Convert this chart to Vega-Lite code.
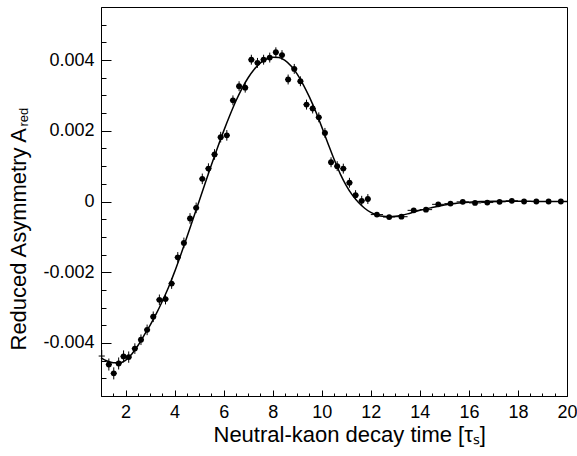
{
  "$schema": "https://vega.github.io/schema/vega-lite/v6.json",
  "width": 466,
  "height": 389,
  "autosize": {"type": "none"},
  "padding": {"left": 101, "top": 7, "right": 10, "bottom": 60},
  "background": "white",
  "config": {
    "view": {"stroke": "black", "strokeWidth": 1},
    "font": "Liberation Sans",
    "axis": {
      "domainColor": "black", "tickColor": "black", "labelColor": "black", "titleColor": "black",
      "labelFont": "Liberation Sans", "titleFont": "Liberation Sans", "titleFontWeight": "normal",
      "grid": false, "domainWidth": 1, "tickWidth": 1, "labelFlush": false, "labelOverlap": false
    }
  },
  "datasets": {
    "pts": [
      {"t": 1.03, "a": -0.00437, "ea": 0.00017, "et": 0.125},
      {"t": 1.32, "a": -0.00461, "ea": 0.00017, "et": 0.125},
      {"t": 1.52, "a": -0.00486, "ea": 0.00017, "et": 0.125},
      {"t": 1.72, "a": -0.00458, "ea": 0.00017, "et": 0.125},
      {"t": 1.92, "a": -0.00438, "ea": 0.00017, "et": 0.125},
      {"t": 2.13, "a": -0.00440, "ea": 0.00016, "et": 0.125},
      {"t": 2.38, "a": -0.00416, "ea": 0.00015, "et": 0.125},
      {"t": 2.63, "a": -0.00391, "ea": 0.00015, "et": 0.125},
      {"t": 2.88, "a": -0.00363, "ea": 0.00015, "et": 0.125},
      {"t": 3.13, "a": -0.00326, "ea": 0.00015, "et": 0.125},
      {"t": 3.38, "a": -0.00278, "ea": 0.00015, "et": 0.125},
      {"t": 3.63, "a": -0.00276, "ea": 0.00015, "et": 0.125},
      {"t": 3.88, "a": -0.00232, "ea": 0.00015, "et": 0.125},
      {"t": 4.13, "a": -0.00158, "ea": 0.00015, "et": 0.125},
      {"t": 4.38, "a": -0.00117, "ea": 0.00015, "et": 0.125},
      {"t": 4.63, "a": -0.00048, "ea": 0.00015, "et": 0.125},
      {"t": 4.88, "a": -0.00018, "ea": 0.00015, "et": 0.125},
      {"t": 5.13, "a": 0.00064, "ea": 0.00015, "et": 0.125},
      {"t": 5.38, "a": 0.00093, "ea": 0.00015, "et": 0.125},
      {"t": 5.63, "a": 0.00133, "ea": 0.00015, "et": 0.125},
      {"t": 5.88, "a": 0.00182, "ea": 0.00015, "et": 0.125},
      {"t": 6.13, "a": 0.00187, "ea": 0.00015, "et": 0.125},
      {"t": 6.38, "a": 0.00286, "ea": 0.00014, "et": 0.125},
      {"t": 6.63, "a": 0.00326, "ea": 0.00014, "et": 0.125},
      {"t": 6.88, "a": 0.00322, "ea": 0.00014, "et": 0.125},
      {"t": 7.13, "a": 0.00401, "ea": 0.00014, "et": 0.125},
      {"t": 7.38, "a": 0.00392, "ea": 0.00014, "et": 0.125},
      {"t": 7.63, "a": 0.00401, "ea": 0.00014, "et": 0.125},
      {"t": 7.88, "a": 0.00407, "ea": 0.00014, "et": 0.125},
      {"t": 8.13, "a": 0.00422, "ea": 0.00014, "et": 0.125},
      {"t": 8.38, "a": 0.00414, "ea": 0.00014, "et": 0.125},
      {"t": 8.63, "a": 0.00345, "ea": 0.00014, "et": 0.125},
      {"t": 8.88, "a": 0.00375, "ea": 0.00014, "et": 0.125},
      {"t": 9.13, "a": 0.00340, "ea": 0.00014, "et": 0.125},
      {"t": 9.38, "a": 0.00274, "ea": 0.00014, "et": 0.125},
      {"t": 9.63, "a": 0.00263, "ea": 0.00014, "et": 0.125},
      {"t": 9.88, "a": 0.00238, "ea": 0.00014, "et": 0.125},
      {"t": 10.13, "a": 0.00194, "ea": 0.00014, "et": 0.125},
      {"t": 10.38, "a": 0.00111, "ea": 0.00014, "et": 0.125},
      {"t": 10.63, "a": 0.00100, "ea": 0.00014, "et": 0.125},
      {"t": 10.88, "a": 0.00093, "ea": 0.00014, "et": 0.125},
      {"t": 11.13, "a": 0.00053, "ea": 0.00014, "et": 0.125},
      {"t": 11.38, "a": 0.00018, "ea": 0.00014, "et": 0.125},
      {"t": 11.63, "a": 0.00002, "ea": 0.00014, "et": 0.125},
      {"t": 11.88, "a": 0.00007, "ea": 0.00014, "et": 0.125},
      {"t": 12.25, "a": -0.00037, "ea": 0.00005, "et": 0.25},
      {"t": 12.75, "a": -0.00044, "ea": 0.00005, "et": 0.25},
      {"t": 13.25, "a": -0.00043, "ea": 0.00005, "et": 0.25},
      {"t": 13.75, "a": -0.00025, "ea": 0.00005, "et": 0.25},
      {"t": 14.25, "a": -0.00023, "ea": 0.00005, "et": 0.25},
      {"t": 14.75, "a": -0.00008, "ea": 0.00005, "et": 0.25},
      {"t": 15.25, "a": -0.00006, "ea": 0.00005, "et": 0.25},
      {"t": 15.75, "a": -0.00001, "ea": 0.00005, "et": 0.25},
      {"t": 16.25, "a": -0.00004, "ea": 0.00005, "et": 0.25},
      {"t": 16.75, "a": -0.00003, "ea": 0.00005, "et": 0.25},
      {"t": 17.25, "a": -0.00001, "ea": 0.00005, "et": 0.25},
      {"t": 17.75, "a": 0.00002, "ea": 0.00005, "et": 0.25},
      {"t": 18.25, "a": 0.0, "ea": 0.00005, "et": 0.25},
      {"t": 18.75, "a": 0.0, "ea": 0.00005, "et": 0.25},
      {"t": 19.25, "a": 0.0, "ea": 0.00005, "et": 0.25},
      {"t": 19.75, "a": 0.0, "ea": 0.00005, "et": 0.25}
    ],
    "curve": [
      {"t": 1.0, "a": -0.00442}, {"t": 1.25, "a": -0.00451}, {"t": 1.5, "a": -0.00456},
      {"t": 1.75, "a": -0.00456}, {"t": 2.0, "a": -0.00449}, {"t": 2.25, "a": -0.00432},
      {"t": 2.5, "a": -0.00408}, {"t": 2.75, "a": -0.00379}, {"t": 3.0, "a": -0.0035},
      {"t": 3.25, "a": -0.00318}, {"t": 3.5, "a": -0.00282}, {"t": 3.75, "a": -0.00243},
      {"t": 4.0, "a": -0.00199}, {"t": 4.25, "a": -0.00151}, {"t": 4.5, "a": -0.00101},
      {"t": 4.75, "a": -0.0005}, {"t": 5.0, "a": 0.00001}, {"t": 5.25, "a": 0.00052},
      {"t": 5.5, "a": 0.00103}, {"t": 5.75, "a": 0.00152}, {"t": 6.0, "a": 0.00199},
      {"t": 6.25, "a": 0.00243}, {"t": 6.5, "a": 0.00284}, {"t": 6.75, "a": 0.0032},
      {"t": 7.0, "a": 0.0035}, {"t": 7.25, "a": 0.00374}, {"t": 7.5, "a": 0.00392},
      {"t": 7.75, "a": 0.00403}, {"t": 8.0, "a": 0.00408}, {"t": 8.25, "a": 0.00407},
      {"t": 8.5, "a": 0.00399}, {"t": 8.75, "a": 0.00383}, {"t": 9.0, "a": 0.0036},
      {"t": 9.25, "a": 0.0033}, {"t": 9.5, "a": 0.00295}, {"t": 9.75, "a": 0.00255},
      {"t": 10.0, "a": 0.00211}, {"t": 10.25, "a": 0.00165}, {"t": 10.5, "a": 0.0012},
      {"t": 10.75, "a": 0.00079}, {"t": 11.0, "a": 0.00045}, {"t": 11.25, "a": 0.00018},
      {"t": 11.5, "a": -0.00003}, {"t": 11.75, "a": -0.00019}, {"t": 12.0, "a": -0.00031},
      {"t": 12.25, "a": -0.00038}, {"t": 12.5, "a": -0.00042}, {"t": 12.75, "a": -0.00043},
      {"t": 13.0, "a": -0.00042}, {"t": 13.25, "a": -0.00039}, {"t": 13.5, "a": -0.00035},
      {"t": 13.75, "a": -0.0003}, {"t": 14.0, "a": -0.00025}, {"t": 14.5, "a": -0.00017},
      {"t": 15.0, "a": -0.0001}, {"t": 15.5, "a": -0.00005}, {"t": 16.0, "a": -0.00002},
      {"t": 16.5, "a": 0.0}, {"t": 17.0, "a": 0.00001}, {"t": 17.5, "a": 0.00001},
      {"t": 18.0, "a": 0.00001}, {"t": 18.5, "a": 0.000005}, {"t": 19.0, "a": 0.0},
      {"t": 19.5, "a": 0.0}, {"t": 20.0, "a": 0.0}
    ]
  },
  "layer": [
    {
      "data": {"name": "curve"},
      "mark": {"type": "line", "color": "black", "strokeWidth": 1.5, "interpolate": "monotone"},
      "encoding": {
        "x": {
          "field": "t", "type": "quantitative",
          "scale": {"domain": [1, 20], "nice": false, "zero": false},
          "axis": {
            "orient": "bottom", "values": [2, 4, 6, 8, 10, 12, 14, 16, 18, 20],
            "tickSize": -6, "labelPadding": 13, "labelFontSize": 18,
            "title": "Neutral-kaon decay time [τₛ]", "titleFontSize": 22,
            "titleAlign": "left", "titleBaseline": "alphabetic", "titleX": 112, "titleY": 45
          }
        },
        "y": {
          "field": "a", "type": "quantitative",
          "scale": {"domain": [-0.0055, 0.0055], "nice": false, "zero": false},
          "axis": {
            "orient": "left", "values": [-0.004, -0.002, 0, 0.002, 0.004],
            "tickSize": -10, "labelPadding": 17, "labelFontSize": 18,
            "labelExpr": "datum.value == 0 ? '0' : (datum.value < 0 ? '-' : '') + format(abs(datum.value), '.3f')",
            "title": "Reduced Asymmetry A", "titleFontSize": 22, "titleAngle": 270,
            "titleAlign": "left", "titleBaseline": "alphabetic", "titleX": -76, "titleY": 343
          }
        }
      }
    },
    {
      "data": {"name": "pts"},
      "mark": {"type": "errorbar", "ticks": false, "thickness": 1, "color": "black"},
      "encoding": {
        "x": {"field": "t", "type": "quantitative", "scale": {"domain": [1, 20], "nice": false, "zero": false}, "axis": null},
        "y": {"field": "a", "type": "quantitative", "scale": {"domain": [-0.0055, 0.0055], "nice": false, "zero": false}, "axis": null},
        "yError": {"field": "ea"}
      }
    },
    {
      "data": {"name": "pts"},
      "mark": {"type": "errorbar", "ticks": false, "thickness": 1, "color": "black"},
      "encoding": {
        "x": {"field": "t", "type": "quantitative", "scale": {"domain": [1, 20], "nice": false, "zero": false}, "axis": null},
        "xError": {"field": "et"},
        "y": {"field": "a", "type": "quantitative", "scale": {"domain": [-0.0055, 0.0055], "nice": false, "zero": false}, "axis": null}
      }
    },
    {
      "data": {"name": "pts"},
      "transform": [{"filter": "datum.t > 1.1"}],
      "mark": {"type": "point", "filled": true, "size": 34, "color": "black", "opacity": 1},
      "encoding": {
        "x": {"field": "t", "type": "quantitative", "scale": {"domain": [1, 20], "nice": false, "zero": false}, "axis": null},
        "y": {"field": "a", "type": "quantitative", "scale": {"domain": [-0.0055, 0.0055], "nice": false, "zero": false}, "axis": null}
      }
    },
    {
      "data": {"name": "pts"},
      "mark": {"type": "point", "opacity": 0},
      "encoding": {
        "x": {
          "field": "t", "type": "quantitative",
          "scale": {"domain": [1, 20], "nice": false, "zero": false},
          "axis": {
            "orient": "bottom",
            "values": [1.5, 2.5, 3, 3.5, 4.5, 5, 5.5, 6.5, 7, 7.5, 8.5, 9, 9.5, 10.5, 11, 11.5, 12.5, 13, 13.5, 14.5, 15, 15.5, 16.5, 17, 17.5, 18.5, 19, 19.5],
            "tickSize": -3, "labels": false, "domain": false, "title": null
          }
        },
        "y": {
          "field": "a", "type": "quantitative",
          "scale": {"domain": [-0.0055, 0.0055], "nice": false, "zero": false},
          "axis": {
            "orient": "left",
            "values": [-0.005, -0.0045, -0.0035, -0.003, -0.0025, -0.0015, -0.001, -0.0005, 0.0005, 0.001, 0.0015, 0.0025, 0.003, 0.0035, 0.0045, 0.005],
            "tickSize": -5, "labels": false, "domain": false,
            "title": "red", "titleFontSize": 13, "titleAngle": 270,
            "titleAlign": "left", "titleBaseline": "alphabetic", "titleX": -74, "titleY": 119
          }
        }
      }
    }
  ],
  "resolve": {"axis": {"x": "independent", "y": "independent"}}
}
